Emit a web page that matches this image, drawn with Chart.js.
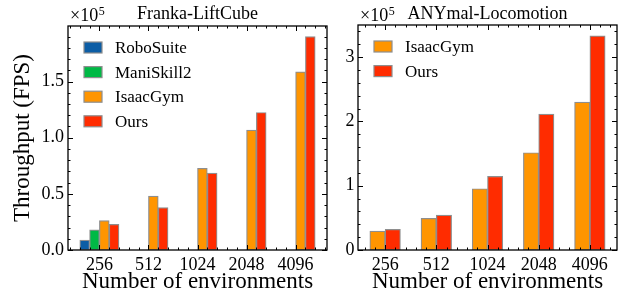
<!DOCTYPE html>
<html>
<head>
<meta charset="utf-8">
<script src="https://cdn.jsdelivr.net/npm/chart.js@4/dist/chart.umd.min.js"></script>
<style>
  body { margin: 0; background: #fff; }
  canvas { position: absolute; top: 0; }
  #lift { left: 0; }
  #anymal { left: 330px; }
</style>
</head>
<body>
<canvas id="lift" width="330" height="301"></canvas>
<canvas id="anymal" width="297" height="301"></canvas>
<script>
const envLabels = ['256', '512', '1024', '2048', '4096'];

// Franka-LiftCube throughput (FPS)
const roboSuiteLift = [8900, null, null, null, null];
const maniSkillLift = [17900, null, null, null, null];
const isaacGymLift = [26100, 48000, 72700, 106800, 158600];
const oursLift = [22800, 37700, 68500, 122500, 190000];
const liftTicks = [0, 50000, 100000, 150000];

// ANYmal-Locomotion throughput (FPS)
const isaacGymAnymal = [29500, 49200, 95300, 151300, 230000];
const oursAnymal = [32100, 54400, 114600, 211400, 333000];
const anymalTicks = [0, 100000, 200000, 300000];

const SERIF = '"Liberation Serif", "DejaVu Serif", serif';
const EDGE = '#8e8e8e';

// frame, inward ticks, inset legend, title and offset text
const frameTicks = {
  id: 'frameTicks',
  afterDraw(chart, args, opts) {
    const { ctx, chartArea: a, scales: { x, y } } = chart;
    ctx.save();
    ctx.strokeStyle = '#000';
    ctx.lineWidth = 1;

    const hTick = (v, len) => {
      const px = Math.round(x.getPixelForValue(v)) + 0.5;
      ctx.beginPath();
      ctx.moveTo(px, a.bottom); ctx.lineTo(px, a.bottom - len);
      ctx.moveTo(px, a.top); ctx.lineTo(px, a.top + len);
      ctx.stroke();
    };
    const vTick = (v, len) => {
      const py = Math.round(y.getPixelForValue(v)) + 0.5;
      ctx.beginPath();
      ctx.moveTo(a.left, py); ctx.lineTo(a.left + len, py);
      ctx.moveTo(a.right, py); ctx.lineTo(a.right - len, py);
      ctx.stroke();
    };

    for (let k = Math.ceil(x.min / 0.2); k * 0.2 <= x.max; k++) {
      if (k % 5 !== 0) hTick(k * 0.2, 2.5);
    }
    envLabels.forEach((_, i) => hTick(i, 5));
    for (let v = 0; v <= y.max; v += opts.yMinor) {
      if (opts.yTicks.indexOf(v) < 0) vTick(v, 2.5);
    }
    opts.yTicks.forEach(v => vTick(v, 5));

    ctx.lineWidth = 1.3;
    ctx.strokeRect(a.left, a.top, a.right - a.left, a.bottom - a.top);

    // legend
    ctx.font = '17px ' + SERIF;
    ctx.textBaseline = 'middle';
    ctx.textAlign = 'left';
    chart.data.datasets.forEach((ds, i) => {
      const cy = a.top + 21.5 + i * 24.6;
      ctx.fillStyle = ds.backgroundColor;
      ctx.fillRect(a.left + 16, cy - 5.5, 18, 11);
      ctx.strokeStyle = EDGE;
      ctx.lineWidth = 1.2;
      ctx.strokeRect(a.left + 16, cy - 5.5, 18, 11);
      ctx.fillStyle = '#000';
      ctx.fillText(ds.label, a.left + 47, cy + 1);
    });

    // title
    ctx.textBaseline = 'alphabetic';
    ctx.textAlign = 'center';
    ctx.font = '18px ' + SERIF;
    ctx.fillText(opts.title, (a.left + a.right) / 2, 19);

    // offset text x10^5
    ctx.textAlign = 'left';
    ctx.font = '18px ' + SERIF;
    const base = '\u00d710';
    ctx.fillText(base, a.left + 2, 21);
    const w = ctx.measureText(base).width;
    ctx.font = '12px ' + SERIF;
    ctx.fillText('5', a.left + 2 + w + 0.5, 15);
    ctx.restore();
  }
};

function barSet(label, values, color, thickness) {
  const pts = [];
  values.forEach((v, i) => { if (v !== null) pts.push({ x: i, y: v }); });
  return {
    label,
    data: pts,
    backgroundColor: color,
    borderColor: EDGE,
    borderWidth: 1.2,
    borderSkipped: false,
    barThickness: thickness
  };
}

function makeChart(id, datasets, cfg) {
  return new Chart(document.getElementById(id), {
    type: 'bar',
    data: { datasets },
    options: {
      responsive: false,
      animation: false,
      devicePixelRatio: 1,
      layout: { padding: { top: cfg.top, right: cfg.right, left: 0, bottom: 0 } },
      scales: {
        x: {
          type: 'linear',
          offset: false,
          min: cfg.xMin,
          max: cfg.xMax,
          grid: { display: false, drawTicks: false, offset: false },
          border: { display: false },
          afterBuildTicks: s => { s.ticks = envLabels.map((_, i) => ({ value: i })); },
          afterFit: s => { s.height = 51; },
          ticks: {
            autoSkip: false,
            maxRotation: 0,
            padding: 4,
            color: '#000',
            font: { family: SERIF, size: 18 },
            callback: v => envLabels[v]
          },
          title: {
            display: true,
            text: 'Number of environments',
            color: '#000',
            font: { family: SERIF, size: 23 },
            padding: { top: 0, bottom: 5 }
          }
        },
        y: {
          min: 0,
          max: cfg.yMax,
          grid: { display: false, drawTicks: false },
          border: { display: false },
          afterBuildTicks: s => { s.ticks = cfg.yTicks.map(v => ({ value: v })); },
          afterFit: s => { s.width = cfg.yWidth; },
          ticks: {
            padding: cfg.yPad,
            color: '#000',
            font: { family: SERIF, size: 18 },
            callback: v => (v / 1e5).toFixed(cfg.digits)
          },
          title: {
            display: cfg.yTitle !== '',
            text: cfg.yTitle,
            color: '#000',
            font: { family: SERIF, size: 23 },
            padding: { top: 9, bottom: 0 }
          }
        }
      },
      plugins: {
        legend: { display: false },
        tooltip: { enabled: false },
        frameTicks: { title: cfg.title, yTicks: cfg.yTicks, yMinor: cfg.yMinor }
      }
    },
    plugins: [frameTicks]
  });
}

makeChart('lift', [
  barSet('RoboSuite', roboSuiteLift, '#0C5DA5', 9.8),
  barSet('ManiSkill2', maniSkillLift, '#00B945', 9.8),
  barSet('IsaacGym', isaacGymLift, '#FF9500', 9.8),
  barSet('Ours', oursLift, '#FF2C00', 9.8)
], {
  title: 'Franka-LiftCube', xMin: -0.64, xMax: 4.64,
  yMax: 199500, yTicks: liftTicks, yMinor: 10000, digits: 1,
  top: 26, right: 3, yWidth: 68, yPad: 4, yTitle: 'Throughput (FPS)'
});

makeChart('anymal', [
  barSet('IsaacGym', isaacGymAnymal, '#FF9500', 15.3),
  barSet('Ours', oursAnymal, '#FF2C00', 15.3)
], {
  title: 'ANYmal-Locomotion', xMin: -0.53, xMax: 4.53,
  yMax: 350000, yTicks: anymalTicks, yMinor: 20000, digits: 0,
  top: 25, right: 10, yWidth: 28, yPad: 3.5, yTitle: ''
});
</script>
</body>
</html>
